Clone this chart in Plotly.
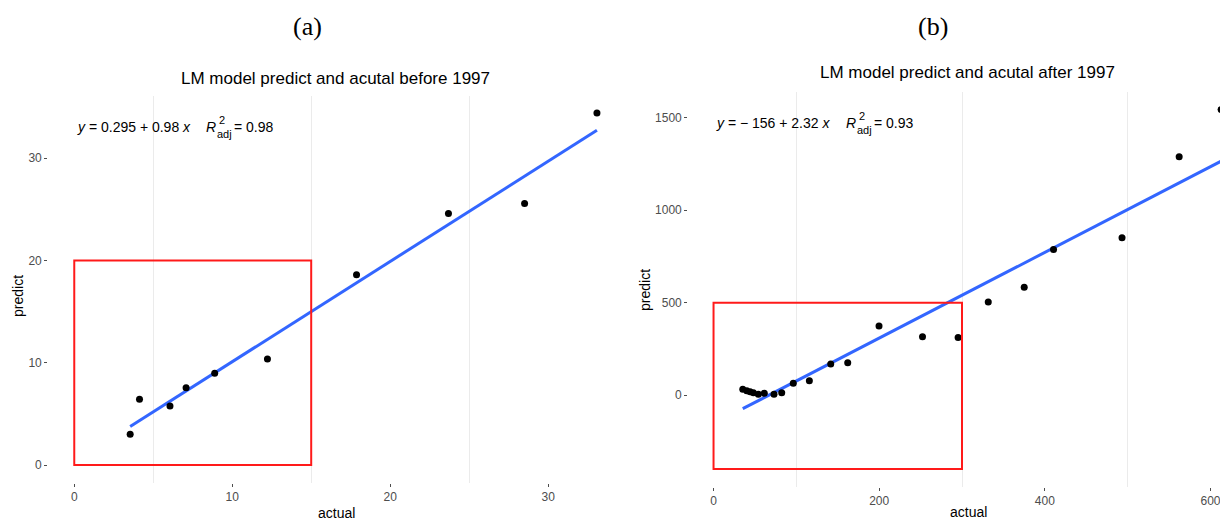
import numpy as np
import plotly.graph_objects as go

# ---------------- data ----------------
actual_a = [3.54, 4.13, 6.06, 7.08, 8.89, 12.23, 17.87, 23.69, 28.51, 33.09]
predict_a = [3.0, 6.42, 5.77, 7.56, 8.96, 10.36, 18.6, 24.59, 25.57, 34.4]
fit_a = [0.295, 0.98]          # intercept, slope
r2_a = "0.98"
box_a = [0, 15, 0, 20]         # x0, x1, y0, y1

actual_b = [35.3, 40.1, 44.1, 48.1, 54.1, 61.3, 73.0, 82.3, 96.3, 115.7, 141.5,
            162.0, 199.8, 252.3, 295.3, 331.7, 375.1, 410.5, 493.2, 562.2, 612.8]
predict_b = [30.9, 23.3, 17.9, 12.5, 3.8, 9.2, 3.8, 12.5, 63.3, 77.4, 168.0,
             175.0, 374.0, 315.0, 311.0, 503.6, 582.7, 787.8, 850.7, 1289.6, 1545.0]
fit_b = [-156, 2.32]
r2_b = "0.93"
box_b = [0, 300, -400, 500]

xticks_a = [0, 10, 20, 30]
yticks_a = [0, 10, 20, 30]
xticks_b = [0, 200, 400, 600]
yticks_b = [0, 500, 1000, 1500]

W, H = 1220, 522
def px(x):
    return x / W
def py(y):
    return 1 - y / H

fig = go.Figure()

def add_panel(xs, ys, fit, xa, ya):
    xf = np.array([min(xs), max(xs)])
    yf = fit[0] + fit[1] * xf
    fig.add_trace(go.Scatter(x=xf, y=yf, mode="lines",
                             line=dict(color="#3366FF", width=3),
                             xaxis=xa, yaxis=ya, showlegend=False, hoverinfo="skip"))
    fig.add_trace(go.Scatter(x=xs, y=ys, mode="markers",
                             marker=dict(color="black", size=7),
                             xaxis=xa, yaxis=ya, showlegend=False))

add_panel(actual_a, predict_a, fit_a, "x", "y")
add_panel(actual_b, predict_b, fit_b, "x2", "y2")

for box, xr, yr in [(box_a, "x", "y"), (box_b, "x2", "y2")]:
    fig.add_shape(type="rect", xref=xr, yref=yr, x0=box[0], x1=box[1], y0=box[2], y1=box[3],
                  line=dict(color="#FF1A1A", width=2), fillcolor="rgba(0,0,0,0)")

tickfont = dict(family="Liberation Sans, Arial", size=12, color="#4d4d4d")
axis_common = dict(showline=False, zeroline=False, ticks="outside", ticklen=3,
                   tickwidth=1, tickcolor="#4d4d4d", tickfont=tickfont, showgrid=False)

fig.update_layout(
    width=W, height=H,
    margin=dict(l=0, r=0, t=0, b=0),
    paper_bgcolor="white", plot_bgcolor="white",
    xaxis=dict(domain=[px(48.2), px(623)], range=[-1.65, 34.74], tickvals=xticks_a,
               minor=dict(dtick=10, tick0=5, showgrid=True, gridcolor="#ebebeb", gridwidth=1),
               anchor="y", **axis_common),
    yaxis=dict(domain=[py(482.6), py(95.7)], range=[-1.72, 36.1], tickvals=yticks_a,
               anchor="x", **axis_common),
    xaxis2=dict(domain=[px(688.2), 1.0], range=[-30.6, 611.5], tickvals=xticks_b,
                minor=dict(dtick=200, tick0=100, showgrid=True, gridcolor="#ebebeb", gridwidth=1),
                ticklabeloverflow="allow", anchor="y2", **axis_common),
    yaxis2=dict(domain=[py(486.8), py(91.7)], range=[-497, 1642], tickvals=yticks_b,
                anchor="x2", **axis_common),
)

sans = "Liberation Sans, Arial"
ann = []
def text(x, y, t, size=14, color="black", family=sans, xanchor="center", angle=0):
    ann.append(dict(x=px(x), y=py(y), xref="paper", yref="paper", text=t, showarrow=False,
                    font=dict(family=family, size=size, color=color), xanchor=xanchor,
                    yanchor="middle", textangle=angle))

# panel labels
text(307, 27, "(a)", size=26, family="Liberation Serif, Times New Roman")
text(933, 27, "(b)", size=26, family="Liberation Serif, Times New Roman")
# titles
text(335, 78, "LM model predict and acutal before 1997", size=17)
text(967, 72, "LM model predict and acutal after 1997", size=17)
# axis titles
text(18, 296, "predict", size=14, angle=-90)
text(336, 513, "actual", size=14)
text(645, 290, "predict", size=14, angle=-90)
text(968, 512, "actual", size=14)

# equations
def equation(x0, y0, fit, r2, r_x):
    a, b = fit
    a_txt = f"{a:g}" if a >= 0 else f"\u2212 {abs(a):g}"
    t = f"<i>y</i> = {a_txt} + {b:g} <i>x</i>"
    text(x0, y0, t, size=14, xanchor="left")
    text(r_x, y0, "<i>R</i>", size=14, xanchor="left")
    text(r_x + 13, y0 - 7, "2", size=11, xanchor="left")
    text(r_x + 11, y0 + 7, "adj", size=11, xanchor="left")
    text(r_x + 28, y0, f"= {r2}", size=14, xanchor="left")

equation(75, 127, fit_a, r2_a, 204)
equation(714, 123, fit_b, r2_b, 844)

fig.update_layout(annotations=ann)
fig.write_html("out.html")
